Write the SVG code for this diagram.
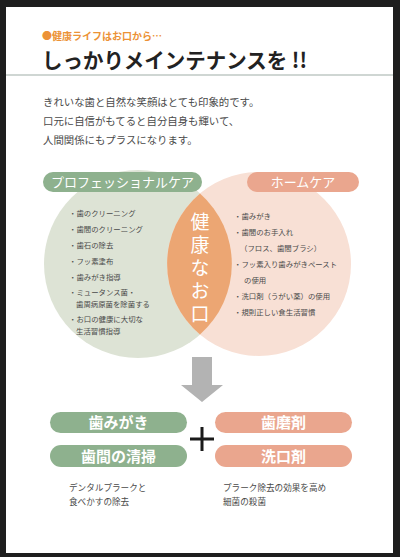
<svg xmlns="http://www.w3.org/2000/svg" width="400" height="557" viewBox="0 0 400 557">
<style>
.jp{font-family:"Noto Sans CJK JP","Noto Sans",sans-serif}
.body{font-size:10.4px;fill:#4a4a4a}
.li{font-size:7.4px;fill:#4a4a4a}
.pt{font-size:13px;fill:#ffffff}
.bt{font-size:15px;fill:#ffffff;font-weight:bold}
.cap{font-size:8.6px;fill:#4a4a4a}
.g{fill:#8eb18e}
.o{fill:#eaa68e}
</style>
<rect x="0" y="0" width="400" height="557" fill="#1e1e1e"/>
<rect x="6" y="7" width="387" height="546" fill="#ffffff"/>
<g id="header">
<text class="jp" x="42" y="40" font-size="10" font-weight="bold" fill="#ec9236">●健康ライフはお口から…</text>
<text class="jp" x="42" y="68" font-size="21" font-weight="bold" fill="#222" textLength="265" lengthAdjust="spacingAndGlyphs">しっかりメインテナンスを !!</text>
<rect x="6" y="74" width="387" height="2" fill="#cfd6d3"/>
</g>
<g id="intro" class="jp body">
<text x="43" y="106">きれいな歯と自然な笑顔はとても印象的です。</text>
<text x="43" y="125">口元に自信がもてると自分自身も輝いて、</text>
<text x="43" y="144">人間関係にもプラスになります。</text>
</g>
<g id="venn">
<circle id="left-circle" cx="138" cy="264" r="94" fill="#dde3d5"/>
<circle id="right-circle" cx="259" cy="264" r="92" fill="#f8e0d5"/>
<path id="lens" d="M200,193.5 A94,94 0 0 1 200,334.5 A92,92 0 0 1 200,193.5 Z" fill="#eca673"/>
</g>
<g id="pro-label">
<rect x="43" y="172" width="159" height="20" rx="10" class="g"/>
<text class="jp pt" x="122.5" y="187" text-anchor="middle">プロフェッショナルケア</text>
</g>
<g id="home-label">
<rect x="247" y="172" width="112" height="20" rx="10" class="o"/>
<text class="jp pt" x="303" y="187" text-anchor="middle">ホームケア</text>
</g>
<g id="health-mouth">
<text class="jp" x="200" y="212" font-size="19" fill="#ffffff" writing-mode="vertical-rl" letter-spacing="4">健康なお口</text>
</g>
<g id="pro-list" class="jp li">
<text x="69" y="216">・歯のクリーニング</text>
<text x="69" y="232">・歯間のクリーニング</text>
<text x="69" y="248">・歯石の除去</text>
<text x="69" y="264">・フッ素塗布</text>
<text x="69" y="280">・歯みがき指導</text>
<text x="69" y="295">・ミュータンス菌・</text>
<text x="76" y="307">歯周病原菌を除菌する</text>
<text x="69" y="322">・お口の健康に大切な</text>
<text x="76" y="334">生活習慣指導</text>
</g>
<g id="home-list" class="jp li">
<text x="234" y="219">・歯みがき</text>
<text x="234" y="235">・歯間のお手入れ</text>
<text x="240" y="251">（フロス、歯間ブラシ）</text>
<text x="234" y="267">・フッ素入り歯みがきペースト</text>
<text x="244" y="283">の使用</text>
<text x="234" y="299">・洗口剤（うがい薬）の使用</text>
<text x="234" y="315">・規則正しい食生活習慣</text>
</g>
<g id="connectors">
<path id="down-arrow" d="M192,357 H212 V385 H223 L202,402 L181,385 H192 Z" fill="#b3b3b3"/>
</g>
<g id="brushing">
<rect x="50" y="412" width="137" height="21" rx="10.5" class="g"/>
<text class="jp bt" x="118.5" y="428" text-anchor="middle">歯みがき</text>
</g>
<g id="interdental">
<rect x="50" y="445" width="137" height="22" rx="11" class="g"/>
<text class="jp bt" x="118.5" y="461.5" text-anchor="middle">歯間の清掃</text>
</g>
<g id="plus">
<path d="M202,427 V451 M190,439 H214" stroke="#1a1a1a" stroke-width="3"/>
</g>
<g id="toothpaste">
<rect x="215" y="412" width="137" height="21" rx="10.5" class="o"/>
<text class="jp bt" x="283.5" y="428" text-anchor="middle">歯磨剤</text>
</g>
<g id="mouthwash">
<rect x="215" y="445" width="137" height="22" rx="11" class="o"/>
<text class="jp bt" x="283.5" y="461.5" text-anchor="middle">洗口剤</text>
</g>
<g id="captions" class="jp cap">
<text x="69" y="491">デンタルプラークと</text>
<text x="69" y="505">食べかすの除去</text>
<text x="223" y="491">プラーク除去の効果を高め</text>
<text x="223" y="505">細菌の殺菌</text>
</g>
</svg>
